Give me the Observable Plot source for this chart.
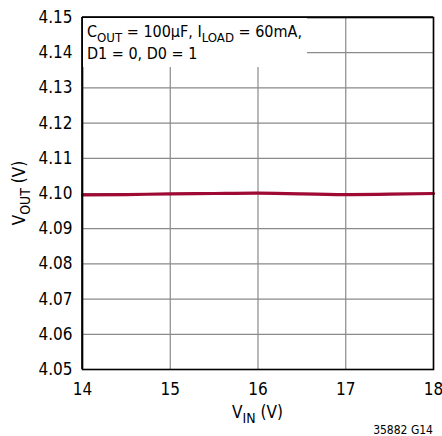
<!DOCTYPE html>
<html>
<head>
<meta charset="utf-8">
<script src="https://cdn.jsdelivr.net/npm/d3@7"></script>
<script src="https://cdn.jsdelivr.net/npm/@observablehq/plot@0.6"></script>
<style>
  html, body { margin: 0; padding: 0; background: #fff; }
  #chart svg { display: block; }
</style>
</head>
<body>
<div id="chart"></div>
<script>
// Data
const vin = [14, 14.5, 15, 15.5, 16, 16.5, 17, 17.5, 18];
const vout = [4.0996, 4.0997, 4.0999, 4.1000, 4.1001, 4.0999, 4.0997, 4.0998, 4.1000];
const xTicks = [14, 15, 16, 17, 18];
const yTicks = [4.05, 4.06, 4.07, 4.08, 4.09, 4.10, 4.11, 4.12, 4.13, 4.14, 4.15];
const chartId = "35882 G14";

const FONT = "'Liberation Sans Narrow', 'DejaVu Sans Condensed', 'Arial Narrow', sans-serif";
const FS = 17;
const data = vin.map((x, i) => ({x, y: vout[i]}));

const plot = Plot.plot({
  width: 442,
  height: 436,
  marginLeft: 82,
  marginRight: 9,
  marginTop: 17,
  marginBottom: 67,
  style: {fontFamily: FONT, fontSize: FS + "px", color: "#000", background: "#fff"},
  x: {domain: [14, 18], ticks: xTicks, tickSize: 0, label: null},
  y: {domain: [4.05, 4.15], ticks: yTicks, tickSize: 0, tickFormat: d3.format(".2f"), label: null},
  marks: [
    Plot.gridX(xTicks, {stroke: "#8a8a8a", strokeOpacity: 1, strokeWidth: 1.2}),
    Plot.gridY(yTicks, {stroke: "#8a8a8a", strokeOpacity: 1, strokeWidth: 1.2}),
    Plot.line(data, {x: "x", y: "y", stroke: "#9e0a33", strokeWidth: 3.2, curve: "natural"}),
    Plot.frame({stroke: "#000", strokeWidth: 1.6}),
    Plot.axisX(xTicks, {tickSize: 0, tickPadding: 9, fontSize: FS, dy: 4}),
    Plot.axisY(yTicks, {tickSize: 0, tickPadding: 10, tickFormat: d3.format(".2f"), fontSize: FS})
  ]
});

document.getElementById("chart").appendChild(plot);

(function () {
  const sx = plot.scale("x"), sy = plot.scale("y");
  const svg = d3.select(plot);
  const xL = sx.apply(14), xR = sx.apply(18), yT = sy.apply(4.15), yB = sy.apply(4.05);

  function subText(g, parts, attrs) {
    const t = g.append("text").attr("font-family", FONT).attr("text-anchor", "start");
    for (const k in attrs) t.attr(k, attrs[k]);
    let shifted = false;
    for (const [txt, sub] of parts) {
      const ts = t.append("tspan").text(txt);
      if (sub) ts.attr("font-size", "0.82em");
      if (sub && !shifted) { ts.attr("dy", 4.5); shifted = true; }
      else if (!sub && shifted) { ts.attr("dy", -4.5); shifted = false; }
    }
    return t;
  }

  // Annotation with white background box (box sized from the text)
  const ann = svg.append("g");
  const boxRect = ann.append("rect").attr("fill", "#fff");
  const line1 = subText(ann, [["C", false], ["OUT", true], [" = 100µF, I", false], ["LOAD", true], [" = 60mA,", false]],
    {x: xL + 5, y: yT + 20, "font-size": 16, fill: "#000"});
  const line2 = subText(ann, [["D1 = 0, D0 = 1", false]],
    {x: xL + 5, y: yT + 42, "font-size": 16, fill: "#000"});
  const b1 = line1.node().getBBox(), b2 = line2.node().getBBox();
  boxRect.attr("x", xL + 1).attr("y", yT + 1)
    .attr("width", Math.max(b1.x + b1.width, b2.x + b2.width) + 5 - xL - 1)
    .attr("height", b2.y + b2.height + 4 - yT - 1);
  ann.append("path").attr("d", `M${xL},${yT}H${xR}M${xL},${yT}V${yB}`)
    .attr("stroke", "#000").attr("stroke-width", 1.6).attr("fill", "none");

  // X axis label
  subText(svg, [["V", false], ["IN", true], [" (V)", false]],
    {x: (xL + xR) / 2, y: yB + 49, "text-anchor": "middle", "font-size": FS, fill: "#000"});

  // Y axis label
  subText(svg, [["V", false], ["OUT", true], [" (V)", false]],
    {transform: `translate(25,${(yT + yB) / 2}) rotate(-90)`, "text-anchor": "middle", "font-size": FS, fill: "#000"});

  // Figure id
  svg.append("text").attr("x", xR).attr("y", 434).attr("text-anchor", "end")
    .attr("font-family", FONT).attr("font-size", 12).attr("fill", "#000").text(chartId);
})();
</script>
</body>
</html>
